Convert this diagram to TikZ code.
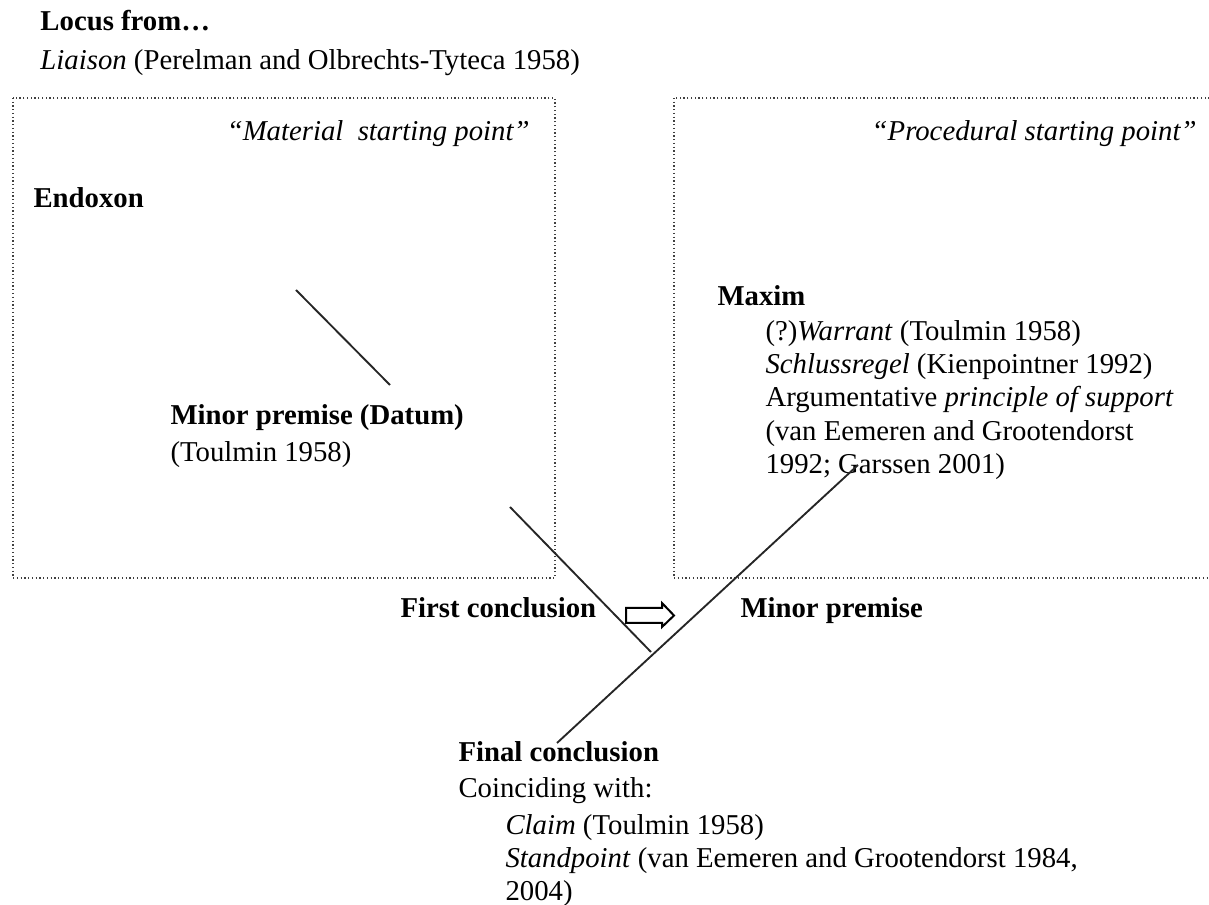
\documentclass[tikz,border=0pt]{standalone}
\usepackage{fontspec}
\setmainfont{Liberation Serif}
\begin{document}
\begin{tikzpicture}[x=0.4pt,y=-0.4pt,
  txt/.style={anchor=base west,inner sep=0pt,font=\fontsize{11.5}{13.3}\selectfont},
  bld/.style={txt,font=\fontsize{11.5}{13.3}\selectfont\bfseries},
  rtxt/.style={anchor=base east,inner sep=0pt,font=\fontsize{11.5}{13.3}\selectfont\itshape},
  dotbox/.style={draw=black!75,densely dotted,line width=0.5pt},
  link/.style={draw=black!85,line width=0.75pt}]
\useasboundingbox (0,0) rectangle (1209,905);
% boxes
\draw[dotbox] (13,98) rectangle (555,578);
\draw[dotbox] (674,98) rectangle (1240,578);
% header
\node[bld] (locus) at (40,31) {Locus from\ldots};
\node[txt] (liaison) at (40,70) {\textit{Liaison} (Perelman and Olbrechts-Tyteca 1958)};
% left box
\node[rtxt] (mat) at (530,141) {``Material\ \ starting point''};
\node[bld] (endoxon) at (33,208) {Endoxon};
\node[bld] (minor) at (170,425) {Minor premise (Datum)};
\node[txt] (toul) at (170,462) {(Toulmin 1958)};
% right box
\node[rtxt] (proc) at (1197,141) {``Procedural starting point''};
\node[bld] (maxim) at (717,306) {Maxim};
\node[txt,align=left,anchor=north west] (maximtxt) at (765,320) {(?)\textit{Warrant} (Toulmin 1958)\\
\textit{Schlussregel} (Kienpointner 1992)\\
Argumentative \textit{principle of support}\\
(van Eemeren and Grootendorst\\
1992; Garssen 2001)};
% middle
\node[bld] (first) at (400,618) {First conclusion};
\node[bld] (minor2) at (740,618) {Minor premise};
% final
\node[bld] (final) at (458,762) {Final conclusion};
\node[txt] (coinc) at (458,798) {Coinciding with:};
\node[txt,align=left,anchor=north west] (claim) at (505,814) {\textit{Claim} (Toulmin 1958)\\
\textit{Standpoint} (van Eemeren and Grootendorst 1984,\\
2004)};
% lines
\coordinate (a1) at (296,290); \coordinate (a2) at (390,385);
\coordinate (b1) at (510,507); \coordinate (b2) at (651,652);
\coordinate (c1) at (557,743); \coordinate (c2) at (858,465);
\draw[link] (a1) -- (a2);
\draw[link] (b1) -- (b2);
\draw[link] (c1) -- (c2);
% hollow arrow
\draw[line width=0.8pt,line join=miter] (626,608) -- (662,608) -- (662,603) -- (674,615.5) -- (662,627) -- (662,623) -- (626,623) -- cycle;
\end{tikzpicture}
\end{document}
